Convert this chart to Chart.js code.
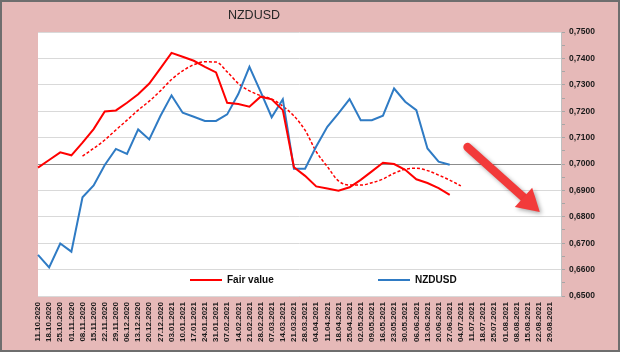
<!DOCTYPE html>
<html>
<head>
<meta charset="utf-8">
<style>
  html, body { margin: 0; padding: 0; background: #E6B9B8; }
  canvas { display: block; }
</style>
<script src="https://cdn.jsdelivr.net/npm/chart.js@4/dist/chart.umd.min.js"></script>
</head>
<body>
<canvas id="chart" width="620" height="352"></canvas>
<script>
// weekly dates, last slot has no label
const labels = [
    '11.10.2020', '18.10.2020', '25.10.2020', '01.11.2020', '08.11.2020', '15.11.2020',
    '22.11.2020', '29.11.2020', '06.12.2020', '13.12.2020', '20.12.2020', '27.12.2020',
    '03.01.2021', '10.01.2021', '17.01.2021', '24.01.2021', '31.01.2021', '07.02.2021',
    '14.02.2021', '21.02.2021', '28.02.2021', '07.03.2021', '14.03.2021', '21.03.2021',
    '28.03.2021', '04.04.2021', '11.04.2021', '18.04.2021', '25.04.2021', '02.05.2021',
    '09.05.2021', '16.05.2021', '23.05.2021', '30.05.2021', '06.06.2021', '13.06.2021',
    '20.06.2021', '27.06.2021', '04.07.2021', '11.07.2021', '18.07.2021', '25.07.2021',
    '01.08.2021', '08.08.2021', '15.08.2021', '22.08.2021', '29.08.2021', ''
];

const fairValue = [
    0.6986, 0.7015, 0.7044, 0.7033, 0.7081, 0.7132, 0.7199, 0.7203, 0.7232, 0.7264,
    0.7305, 0.7362, 0.7421, 0.7406, 0.7391, 0.7368, 0.7347, 0.7232, 0.7227, 0.7217,
    0.7255, 0.7245, 0.7204, 0.6988, 0.6955, 0.6915, 0.6907, 0.6899, 0.6912, 0.6940,
    0.6972, 0.7005, 0.7000, 0.6978, 0.6942, 0.6928, 0.6909, 0.6883
];

const nzdusd = [
    0.6656, 0.6608, 0.6699, 0.6668, 0.6874, 0.6919, 0.6996, 0.7057, 0.7038, 0.7131,
    0.7093, 0.7182, 0.7260, 0.7194, 0.7179, 0.7163, 0.7163, 0.7188, 0.7265, 0.7368,
    0.7274, 0.7177, 0.7245, 0.6982, 0.6982, 0.7066, 0.7141, 0.7192, 0.7246, 0.7166,
    0.7166, 0.7183, 0.7286, 0.7236, 0.7204, 0.7059, 0.7009, 0.6997
];

// smoothed fair value (dashed)
const fairTrend = [
    null, null, null, null, 0.7030, 0.7059, 0.7091, 0.7129, 0.7166, 0.7204,
    0.7238, 0.7277, 0.7320, 0.7353, 0.7376, 0.7387, 0.7386, 0.7349, 0.7305, 0.7277,
    0.7259, 0.7246, 0.7219, 0.7182, 0.7128, 0.7047, 0.6990, 0.6936, 0.6920, 0.6920,
    0.6929, 0.6943, 0.6965, 0.6980, 0.6984, 0.6975, 0.6958, 0.6939, 0.6917
];

// arrow annotation: [category index, value]
const arrowFrom = [38.6, 0.7064];
const arrowTo = [45.1, 0.6818];

const PINK = '#E6B9B8';
const RED = '#FF0000';
const BLUE = '#2F7BC4';

const decor = {
    id: 'decor',
    beforeDraw(chart) {
        const ctx = chart.ctx;
        const a = chart.chartArea;
        ctx.save();
        ctx.fillStyle = PINK;
        ctx.fillRect(0, 0, chart.width, chart.height);
        ctx.fillStyle = '#FFFFFF';
        ctx.fillRect(a.left, a.top, a.right - a.left, a.bottom - a.top);
        ctx.restore();
    },
    afterDraw(chart) {
        const ctx = chart.ctx;
        const a = chart.chartArea;
        const xs = chart.scales.x, ys = chart.scales.y;
        ctx.save();

        // title
        ctx.fillStyle = '#262626';
        ctx.font = '12.5px "Liberation Sans", Arial, sans-serif';
        ctx.textAlign = 'center';
        ctx.textBaseline = 'middle';
        ctx.fillText('NZDUSD', 254, 16);

        // legend (first two series only)
        const items = [
            { ds: chart.data.datasets[0], x: a.left + 152 },
            { ds: chart.data.datasets[1], x: a.left + 340 }
        ];
        const ly = a.bottom - 16;
        ctx.font = 'bold 10px "Liberation Sans", Arial, sans-serif';
        ctx.textAlign = 'left';
        items.forEach(it => {
            ctx.strokeStyle = it.ds.borderColor;
            ctx.lineWidth = 2;
            ctx.beginPath();
            ctx.moveTo(it.x, ly);
            ctx.lineTo(it.x + 32, ly);
            ctx.stroke();
            ctx.fillStyle = '#0D0D0D';
            ctx.fillText(it.ds.label, it.x + 37, ly);
        });

        // arrow
        const x1 = xs.getPixelForValue(arrowFrom[0]), y1 = ys.getPixelForValue(arrowFrom[1]);
        const x2 = xs.getPixelForValue(arrowTo[0]), y2 = ys.getPixelForValue(arrowTo[1]);
        const len = Math.hypot(x2 - x1, y2 - y1);
        const ux = (x2 - x1) / len, uy = (y2 - y1) / len;
        const hl = 22, hw = 13;
        const bx = x2 - ux * hl, by = y2 - uy * hl;
        ctx.shadowColor = 'rgba(0,0,0,0.35)';
        ctx.shadowBlur = 4;
        ctx.shadowOffsetX = 2;
        ctx.shadowOffsetY = 2;
        ctx.strokeStyle = '#F23A3A';
        ctx.fillStyle = '#F23A3A';
        ctx.lineWidth = 8.5;
        ctx.lineCap = 'round';
        ctx.beginPath();
        ctx.moveTo(x1, y1);
        ctx.lineTo(bx + ux * 2, by + uy * 2);
        ctx.stroke();
        ctx.beginPath();
        ctx.moveTo(x2, y2);
        ctx.lineTo(bx - uy * hw, by + ux * hw);
        ctx.lineTo(bx + uy * hw, by - ux * hw);
        ctx.closePath();
        ctx.fill();
        ctx.shadowColor = 'transparent';

        // outer frame
        ctx.strokeStyle = '#6E6E6E';
        ctx.lineWidth = 2;
        ctx.strokeRect(1, 1, chart.width - 2, chart.height - 2);
        ctx.restore();
    }
};

const isMajor = v => Math.round(v * 1000) % 10 === 0;

new Chart(document.getElementById('chart'), {
    type: 'line',
    data: {
        labels: labels,
        datasets: [{
            label: 'Fair value',
            data: fairValue,
            borderColor: RED,
            borderWidth: 2,
            pointRadius: 0,
            tension: 0
        }, {
            label: 'NZDUSD',
            data: nzdusd,
            borderColor: BLUE,
            borderWidth: 2,
            pointRadius: 0,
            tension: 0
        }, {
            label: 'Fair value trend',
            data: fairTrend,
            borderColor: RED,
            borderWidth: 1.5,
            borderDash: [3, 2],
            pointRadius: 0,
            cubicInterpolationMode: 'monotone'
        }]
    },
    options: {
        responsive: false,
        devicePixelRatio: 1,
        animation: false,
        layout: { padding: { left: 38, top: 32, right: 0, bottom: 0 } },
        plugins: {
            legend: { display: false },
            title: { display: false },
            tooltip: { enabled: false }
        },
        scales: {
            x: {
                offset: false,
                grid: { display: false, drawTicks: false },
                border: { display: false },
                ticks: {
                    autoSkip: false,
                    minRotation: 90,
                    maxRotation: 90,
                    padding: 6,
                    color: '#1A1A1A',
                    font: { family: '"Liberation Sans", Arial, sans-serif', size: 8, weight: 'bold' }
                },
                afterFit(scale) { scale.height = 56; }
            },
            y: {
                position: 'right',
                min: 0.65,
                max: 0.75,
                border: { display: true, color: '#BFBFBF' },
                grid: {
                    color: c => {
                        const v = c.tick ? c.tick.value : 0;
                        if (!isMajor(v)) return 'rgba(0,0,0,0)';
                        return Math.abs(v - 0.70) < 1e-6 ? '#8C8C8C' : '#D9D9D9';
                    },
                    tickColor: '#A6A6A6',
                    tickLength: 4,
                    lineWidth: 1
                },
                ticks: {
                    stepSize: 0.005,
                    autoSkip: false,
                    padding: 4,
                    color: '#1A1A1A',
                    font: { family: '"Liberation Sans", Arial, sans-serif', size: 8.5, weight: 'bold' },
                    callback: v => isMajor(v) ? v.toFixed(4).replace('.', ',') : ''
                },
                afterFit(scale) { scale.width = 59; }
            }
        }
    },
    plugins: [decor]
});
</script>
</body>
</html>
